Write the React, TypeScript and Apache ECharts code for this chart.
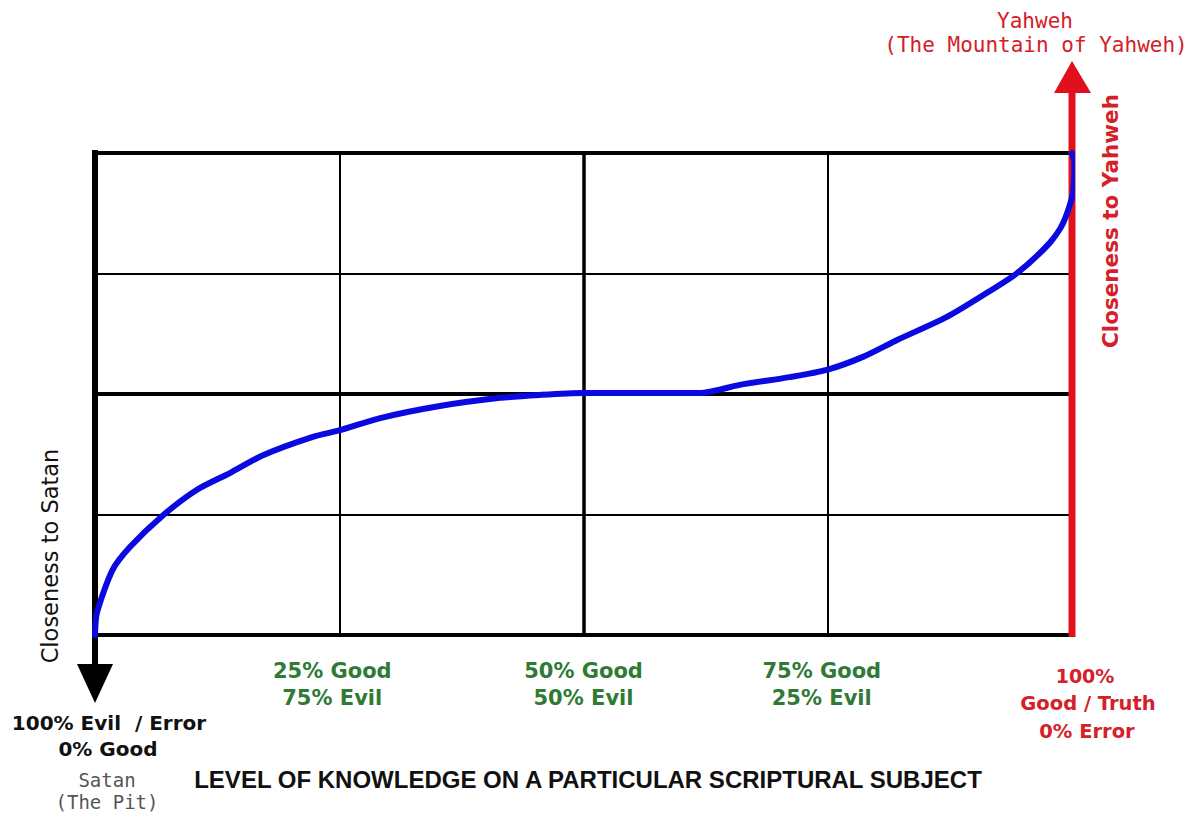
import React, { useEffect, useRef } from "react";
import * as echarts from "echarts";

// Curve (knowledge level % vs closeness %)
const knowledge = [0, 0.2, 1.8, 3.6, 7.0, 10.4, 13.8, 17.2, 22.3, 25.1, 29.2, 35.3, 41.5, 45.5, 49.9, 56.8, 61.9, 66.0, 71.1, 74.9, 78.6, 82.1, 87.2, 91.3, 94.4, 97.7, 99.1, 100.1, 100.25, 100];
const closeness = [0, 4.6, 13.5, 18.3, 24.9, 30.1, 33.6, 37.3, 41.1, 42.5, 45.0, 47.5, 49.2, 49.8, 50.2, 50.2, 50.2, 51.9, 53.5, 55.0, 57.7, 61.2, 66.0, 71.0, 75.1, 81.3, 85.5, 91.7, 98.0, 100];

const greenLabelPositions = [25, 50, 75];
const greenLabels = [
  ["25% Good", "75% Evil"],
  ["50% Good", "50% Evil"],
  ["75% Good", "25% Evil"],
];
const leftLabels = ["100% Evil  / Error", "0% Good"];
const leftSubLabels = ["Satan", "(The Pit)"];
const rightLabels = ["100%", "Good / Truth", "0% Error"];
const topLabels = ["Yahweh", "(The Mountain of Yahweh)"];
const xTitle = "LEVEL OF KNOWLEDGE ON A PARTICULAR SCRIPTURAL SUBJECT";
const leftAxisTitle = "Closeness to Satan";
const rightAxisTitle = "Closeness to Yahweh";

const RED = "#e0101c";
const RED_TEXT = "#d42028";
const GREEN = "#2f7a35";
const BLUE = "#0a0ae0";

export default function App() {
  const ref = useRef<HTMLDivElement>(null);
  useEffect(() => {
    if (!ref.current) return;
    const chart = echarts.init(ref.current, undefined, { renderer: "svg" });
    const data = knowledge.map((k, i) => [k, closeness[i]]);
    const hidden = { show: false };
    chart.setOption({
      animation: false,
      backgroundColor: "#ffffff",
      grid: { left: 95, right: 131, top: 153, bottom: 184 },
      xAxis: [
        {
          type: "value", min: 0, max: 100, interval: 25,
          axisLine: hidden, axisTick: hidden, axisLabel: hidden,
          splitLine: { show: true, lineStyle: { color: "#000", width: 2 } },
        },
        {
          type: "value", min: 0, max: 100, interval: 50, position: "bottom",
          axisLine: hidden, axisTick: hidden, axisLabel: hidden,
          splitLine: { show: true, lineStyle: { color: "#000", width: 3.5 } },
        },
      ],
      yAxis: [
        {
          type: "value", min: 0, max: 100, interval: 25,
          axisLine: hidden, axisTick: hidden, axisLabel: hidden,
          splitLine: { show: true, lineStyle: { color: "#000", width: 2 } },
        },
        {
          type: "value", min: 0, max: 100, interval: 50, position: "left",
          axisLine: hidden, axisTick: hidden, axisLabel: hidden,
          splitLine: { show: true, lineStyle: { color: "#000", width: 4 } },
        },
      ],
      series: [
        {
          type: "line",
          data,
          smooth: 0.25,
          showSymbol: false,
          clip: false,
          z: 5,
          lineStyle: { color: BLUE, width: 6, cap: "round", join: "round" },
        },
      ],
    });

    const [x0, yB] = chart.convertToPixel({ gridIndex: 0 }, [0, 0]) as number[];
    const [x1, yT] = chart.convertToPixel({ gridIndex: 0 }, [100, 100]) as number[];
    const xs = greenLabelPositions.map((p) => (chart.convertToPixel({ gridIndex: 0 }, [p, 0]) as number[])[0]);
    const greenShift = [-7, 0, -6];

    const boldFont = (size: number) => ({ fontFamily: "DejaVu Sans", fontWeight: "bold", fontSize: size });
    const txt = (text: string, x: number, y: number, fill: string, font: any, extra: any = {}) => ({
      type: "text",
      x, y, z: 10,
      ...extra,
      style: { text, fill, align: "center", verticalAlign: "middle", ...font },
    });

    const graphics: any[] = [
      // black downward arrow (left axis)
      { type: "line", z: 3, shape: { x1: x0, y1: yT - 3, x2: x0, y2: yB + 32 }, style: { stroke: "#000", lineWidth: 6 } },
      { type: "polygon", z: 3, shape: { points: [[x0 - 18, yB + 29], [x0 + 18, yB + 29], [x0, yB + 68]] }, style: { fill: "#000" } },
      // red upward arrow (right axis)
      { type: "line", z: 3, shape: { x1: x1, y1: yB + 2, x2: x1, y2: yT - 64 }, style: { stroke: RED, lineWidth: 7 } },
      { type: "polygon", z: 3, shape: { points: [[x1 - 18, yT - 60], [x1 + 19, yT - 60], [x1, yT - 92]] }, style: { fill: RED } },
    ];

    greenLabels.forEach((pair, i) => {
      graphics.push(txt(pair[0], xs[i] + greenShift[i], yB + 36, GREEN, boldFont(21)));
      graphics.push(txt(pair[1], xs[i] + greenShift[i], yB + 63, GREEN, boldFont(21)));
    });

    graphics.push(txt(leftLabels[0], x0 + 14, yB + 88, "#111", boldFont(20)));
    graphics.push(txt(leftLabels[1], x0 + 13, yB + 114, "#111", boldFont(20)));
    graphics.push(txt(leftSubLabels[0], x0 + 12, yB + 145, "#555", { fontFamily: "DejaVu Sans Mono", fontSize: 19 }));
    graphics.push(txt(leftSubLabels[1], x0 + 12, yB + 167, "#555", { fontFamily: "DejaVu Sans Mono", fontSize: 19 }));

    graphics.push(txt(rightLabels[0], x1 + 13, yB + 41, RED_TEXT, boldFont(19)));
    graphics.push(txt(rightLabels[1], x1 + 16, yB + 68, RED_TEXT, boldFont(19.5)));
    graphics.push(txt(rightLabels[2], x1 + 15, yB + 96, RED_TEXT, boldFont(19.5)));

    graphics.push(txt(topLabels[0], x1 - 37, 21, RED_TEXT, { fontFamily: "DejaVu Sans Mono", fontSize: 21 }));
    graphics.push(txt(topLabels[1], x1 - 36, 45, RED_TEXT, { fontFamily: "DejaVu Sans Mono", fontSize: 21 }));

    graphics.push(txt(xTitle, 588, yB + 144, "#111", { fontFamily: "Liberation Sans", fontWeight: "bold", fontSize: 24 }));

    graphics.push(txt(leftAxisTitle, x0 - 45, 556, "#111", { fontFamily: "DejaVu Sans", fontSize: 22.5 }, { rotation: Math.PI / 2 }));
    graphics.push(txt(rightAxisTitle, x1 + 38, 221, RED_TEXT, boldFont(21.5), { rotation: Math.PI / 2 }));

    chart.setOption({ graphic: graphics });

    return () => chart.dispose();
  }, []);
  return (
    <div
      ref={ref}
      style={{ position: "fixed", left: 0, top: 0, width: 1203, height: 819, background: "#fff" }}
    />
  );
}
